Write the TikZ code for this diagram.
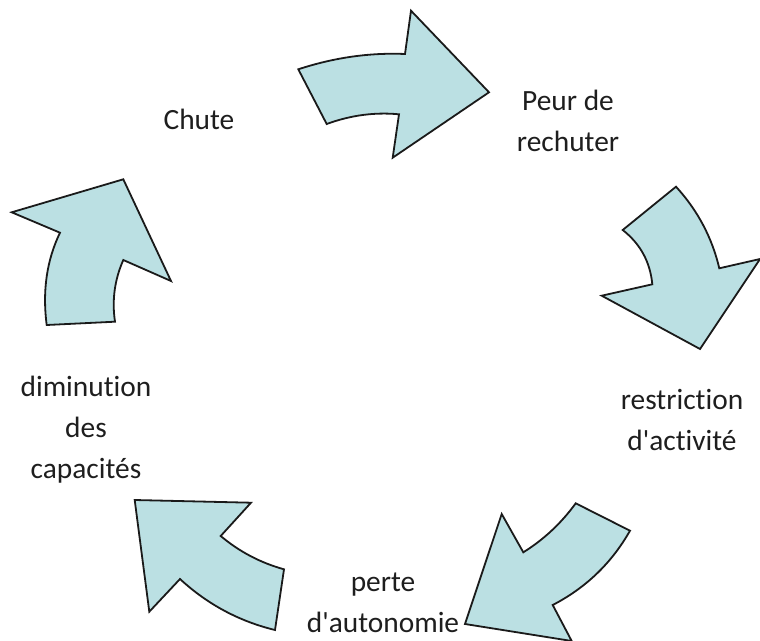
\documentclass[tikz,border=0pt]{standalone}
\usepackage{fontspec}
\setmainfont{Carlito}[Ligatures={TeXOff,CommonOff}]
\definecolor{arrowfill}{RGB}{187,224,227}
\definecolor{arrowline}{RGB}{26,26,26}
\definecolor{txt}{RGB}{30,30,30}
\begin{document}
\begin{tikzpicture}[x=1bp,y=-1bp,
  blockarrow/.style={fill=arrowfill,draw=arrowline,line width=1.8bp,line join=miter},
  label/.style={text=txt,font=\fontsize{29.5}{41}\selectfont,align=center,inner sep=0pt}]
\useasboundingbox (0,0) rectangle (760,641);
% labels
\node[label] (chute) at (199,119) {Chute};
\node[label] (peur) at (568,121) {Peur de\\rechuter};
\node[label] (restr) at (682,420) {restriction\\d'activité};
\node[label] (perte) at (383,603) {perte\\d'autonomie};
\node[label] (dimin) at (86,430) {diminution\\des\\capacités};
% arrow 1 : Chute -> Peur de rechuter
\draw[blockarrow] (298.3,69.3) .. controls (333.9,57.6) and (369.5,52.5) .. (405,54)
  -- (411,10.7) -- (489,92.3) -- (392.7,157.7) -- (399,114.3)
  .. controls (374.8,112.0) and (350.7,115.2) .. (326.7,124) -- cycle;
% arrow 2 : Peur -> restriction
\draw[blockarrow] (676,186.7) .. controls (697.5,210.2) and (712.0,237.4) .. (719.3,268.3)
  -- (760,259) -- (700,349) -- (601.7,295.7) -- (652.3,284.3)
  .. controls (650.2,262.0) and (640.4,243.9) .. (622.7,230) -- cycle;
% arrow 3 : restriction -> perte
\draw[blockarrow] (630,530.7) .. controls (611.6,563.1) and (585.8,587.9) .. (552.7,605)
  -- (571.7,641) -- (465,624) -- (501.7,514) -- (523.3,552.3)
  .. controls (544.0,539.4) and (561.4,523.0) .. (575.7,503.3) -- cycle;
% arrow 4 : perte -> diminution
\draw[blockarrow] (275,630) .. controls (238.9,621.2) and (207.3,604.2) .. (180,579)
  -- (149.3,611.7) -- (134.7,500) -- (251,502.7) -- (220.7,536)
  .. controls (239.4,551.7) and (260.5,562.8) .. (284,569.3) -- cycle;
% arrow 5 : diminution -> Chute
\draw[blockarrow] (46.7,325) .. controls (42.3,290.9) and (46.7,260.2) .. (60,232.7)
  -- (11.7,212.3) -- (123.3,179.3) -- (171,281) -- (123.3,260)
  .. controls (114.6,279.7) and (111.8,300.3) .. (115,321.7) -- cycle;
\end{tikzpicture}
\end{document}
